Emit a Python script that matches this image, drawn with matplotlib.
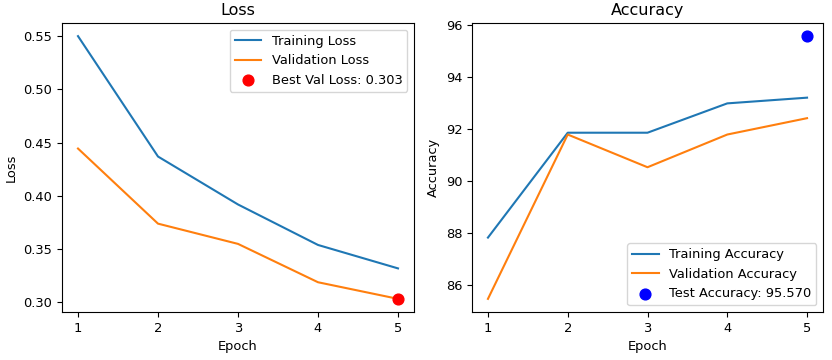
import numpy as np
import matplotlib
matplotlib.use("Agg")
import matplotlib.pyplot as plt

# dados
epochs = [1, 2, 3, 4, 5]
train_loss = [0.550, 0.437, 0.392, 0.354, 0.332]
val_loss = [0.4445, 0.374, 0.355, 0.319, 0.3034]
train_acc = [87.81, 91.85, 91.85, 92.98, 93.20]
val_acc = [85.45, 91.78, 90.52, 91.78, 92.41]
test_acc = 95.570

plt.rcParams["font.size"] = 9.4
fig = plt.figure(figsize=(8.32, 3.6), dpi=100)
ax1 = fig.add_axes([62/832, 48/360, 352/832, 289/360])
ax2 = fig.add_axes([472/832, 48/360, 351/832, 289/360])

# loss
best = int(np.argmin(val_loss))
ax1.plot(epochs, train_loss, label="Training Loss")
ax1.plot(epochs, val_loss, label="Validation Loss")
ax1.scatter(epochs[best], val_loss[best], color="red", s=60, zorder=3,
            label=f"Best Val Loss: {val_loss[best]:.3f}")
ax1.set_title("Loss", fontsize=11.5)
ax1.set_xlabel("Epoch")
ax1.set_ylabel("Loss")
ax1.set_xticks(epochs)
ax1.legend(loc="upper right")

# acuracia
ax2.plot(epochs, train_acc, label="Training Accuracy")
ax2.plot(epochs, val_acc, label="Validation Accuracy")
ax2.scatter(epochs[-1], test_acc, color="blue", s=60, zorder=3,
            label=f"Test Accuracy: {test_acc:.3f}")
ax2.set_title("Accuracy", fontsize=11.5)
ax2.set_xlabel("Epoch")
ax2.set_ylabel("Accuracy")
ax2.set_xticks(epochs)
ax2.legend(loc="lower right")

fig.savefig("out.png")
